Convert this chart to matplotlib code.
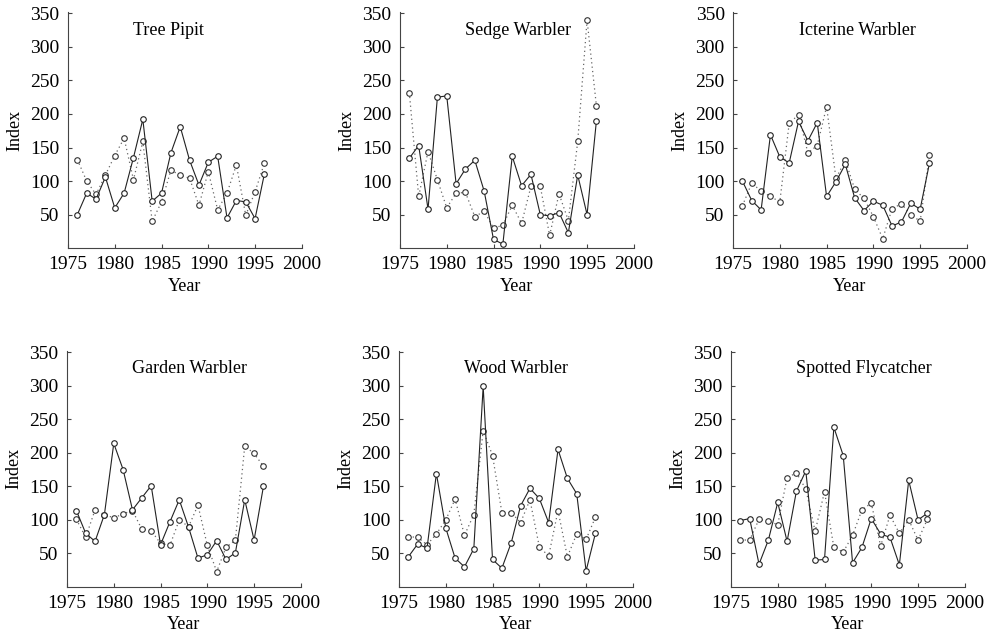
import matplotlib
matplotlib.use("Agg")
import matplotlib.pyplot as plt

plt.rcParams['font.family'] = ['Liberation Serif', 'DejaVu Serif']

years = list(range(1976, 1997))

# Tree Pipit
tree_pipit_solid = [50, 82, 73, 106, 60, 82, 135, 192, 70, 82, 142, 181, 131, 94, 128, 137, 45, 71, 69, 44, 111]
tree_pipit_dotted = [132, 100, 80, 109, 138, 164, 102, 159, 40, 69, 116, 109, 104, 64, 114, 57, 82, 124, 49, 84, 127]

# Sedge Warbler
sedge_solid = [134, 153, 58, 225, 227, 96, 118, 131, 85, 13, 6, 137, 93, 110, 50, 48, 53, 23, 109, 50, 190]
sedge_dotted = [232, 77, 144, 102, 60, 82, 83, 47, 55, 30, 34, 64, 37, 92, 92, 19, 81, 41, 159, 340, 212]

# Icterine Warbler
icterine_solid = [100, 71, 57, 169, 136, 127, 189, 160, 187, 77, 99, 125, 75, 56, 70, 64, 33, 39, 67, 58, 127]
icterine_dotted = [63, 97, 85, 77, 69, 186, 199, 142, 153, 211, 104, 131, 88, 74, 47, 14, 59, 66, 50, 40, 139]

# Garden Warbler
garden_solid = [114, 80, 68, 108, 214, 175, 115, 133, 151, 63, 97, 130, 89, 43, 48, 69, 41, 51, 130, 70, 150]
garden_dotted = [101, 74, 115, 108, 103, 109, 114, 86, 84, 65, 62, 100, 90, 122, 62, 23, 59, 70, 210, 199, 180]

# Wood Warbler
wood_solid = [45, 64, 58, 169, 88, 43, 30, 57, 299, 41, 28, 66, 121, 147, 132, 96, 205, 162, 139, 24, 80]
wood_dotted = [75, 74, 63, 79, 100, 131, 77, 108, 233, 196, 111, 111, 96, 130, 60, 46, 114, 45, 79, 71, 104]

# Spotted Flycatcher
flycatcher_solid = [99, 102, 34, 70, 126, 68, 143, 173, 40, 41, 238, 196, 36, 59, 102, 79, 74, 33, 159, 100, 110]
flycatcher_dotted = [70, 70, 101, 98, 93, 163, 170, 146, 83, 142, 59, 52, 77, 115, 125, 61, 107, 80, 100, 70, 101]

titles = ["Tree Pipit", "Sedge Warbler", "Icterine Warbler",
          "Garden Warbler", "Wood Warbler", "Spotted Flycatcher"]
solid_series = [tree_pipit_solid, sedge_solid, icterine_solid,
                garden_solid, wood_solid, flycatcher_solid]
dotted_series = [tree_pipit_dotted, sedge_dotted, icterine_dotted,
                 garden_dotted, wood_dotted, flycatcher_dotted]

fig = plt.figure(figsize=(9.91, 6.33), dpi=100)

# axes rectangles in figure fraction (left, bottom, width, height)
lefts = [0.0686, 0.4036, 0.7397, 0.0676, 0.4026, 0.7376]
bottoms = [0.608, 0.608, 0.608, 0.0727, 0.0727, 0.0727]
width = 0.236
height = 0.373

for i in range(6):
    ax = fig.add_axes([lefts[i], bottoms[i], width, height])
    ax.plot(years, dotted_series[i], linestyle=(0, (1, 2.5)), color='#666666', lw=0.9,
            marker='o', ms=4, mfc='white', mec='#333333', mew=0.8, zorder=2)
    ax.plot(years, solid_series[i], linestyle='-', color='#222222', lw=0.8,
            marker='o', ms=4, mfc='white', mec='#222222', mew=0.8, zorder=3)
    ax.set_xlim(1975, 2000)
    ax.set_ylim(0, 352)
    ax.set_xticks([1975, 1980, 1985, 1990, 1995, 2000])
    ax.set_yticks([50, 100, 150, 200, 250, 300, 350])
    ax.tick_params(direction='in', length=3, width=0.8, color='#444444',
                   labelsize=14, pad=6)
    for side in ['top', 'right']:
        ax.spines[side].set_visible(False)
    for side in ['left', 'bottom']:
        ax.spines[side].set_linewidth(0.8)
        ax.spines[side].set_color('#444444')
    ax.set_xlabel('Year', fontsize=13)
    ax.set_ylabel('Index', fontsize=13)
    ax.xaxis.set_label_coords(0.5, -0.125)
    ax.yaxis.set_label_coords(-0.19, 0.5)
    ax.text(1982, 325, titles[i], fontsize=13, ha='left', va='center')

fig.savefig('out.png', dpi=100)
